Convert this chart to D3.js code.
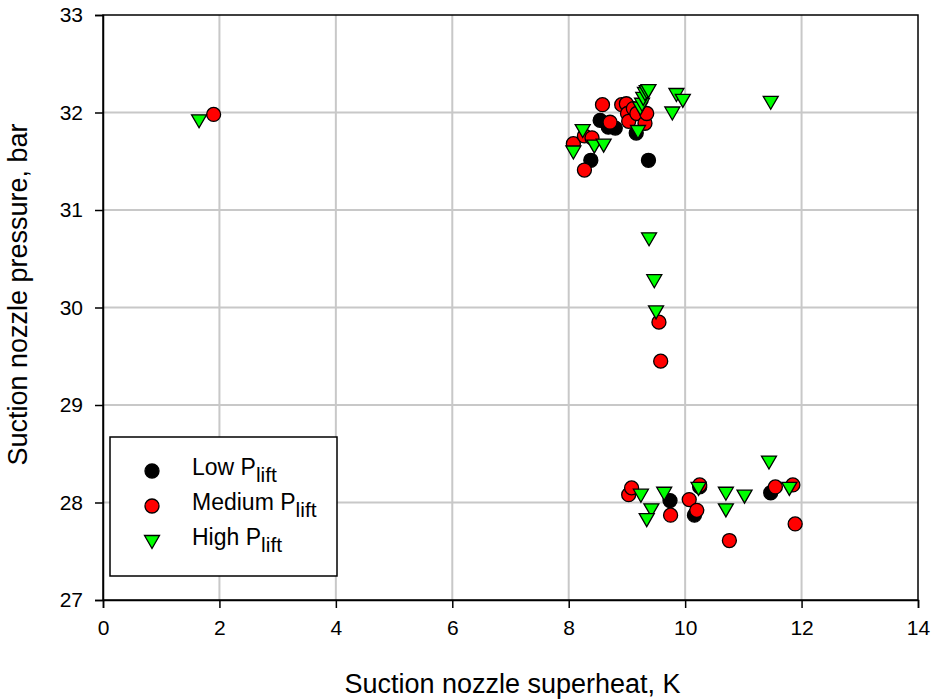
<!DOCTYPE html>
<html>
<head>
<meta charset="utf-8">
<script src="https://cdn.jsdelivr.net/npm/d3@7"></script>
<style>
  body { margin: 0; background: #fff; }
  text { font-family: "Liberation Sans", Arial, sans-serif; fill: #000; }
</style>
</head>
<body>
<div id="chart"></div>
<script>
// data: [superheat K, pressure bar]
var lowData = [
  [8.38, 31.51], [8.54, 31.92], [8.68, 31.85], [8.80, 31.84], [9.00, 32.05],
  [9.16, 31.79], [9.37, 31.51],
  [9.74, 28.02], [10.16, 27.87], [10.25, 28.16], [11.47, 28.10]
];
var mediumData = [
  [1.90, 31.98],
  [8.08, 31.68], [8.27, 31.76], [8.40, 31.74], [8.27, 31.41], [8.58, 32.08],
  [8.71, 31.90], [8.91, 32.08], [8.99, 32.09], [9.01, 31.99], [9.03, 31.91],
  [9.11, 32.04], [9.17, 31.99], [9.31, 31.89], [9.34, 31.99],
  [9.55, 29.85], [9.58, 29.45],
  [9.03, 28.08], [9.08, 28.15], [9.75, 27.87], [10.07, 28.03], [10.20, 27.92],
  [10.25, 28.18], [10.76, 27.61], [11.55, 28.16], [11.85, 28.18], [11.89, 27.78]
];
var highData = [
  [1.65, 31.92],
  [8.08, 31.60], [8.24, 31.82], [8.44, 31.66], [8.60, 31.67], [9.19, 31.81],
  [9.23, 32.05], [9.26, 32.09], [9.28, 32.15], [9.31, 32.20], [9.34, 32.22],
  [9.37, 32.23], [9.78, 32.00], [9.85, 32.19], [9.96, 32.13], [11.47, 32.11],
  [9.38, 30.71], [9.47, 30.28], [9.50, 29.96],
  [9.24, 28.08], [9.42, 27.93], [9.34, 27.83], [9.64, 28.10], [10.23, 28.15],
  [10.70, 28.10], [10.70, 27.93], [11.02, 28.07], [11.44, 28.42], [11.79, 28.15]
];
var xTicks = [0, 2, 4, 6, 8, 10, 12, 14];
var yTicks = [27, 28, 29, 30, 31, 32, 33];
var seriesNames = ["Low", "Medium", "High"];

var svgWidth = 931;
var svgHeight = 700;
var margin = { top: 15, right: 13, bottom: 100, left: 103 };
var width = svgWidth - margin.left - margin.right;
var height = svgHeight - margin.top - margin.bottom;

var svg = d3.select("#chart").append("svg")
  .attr("width", svgWidth)
  .attr("height", svgHeight);

var chartGroup = svg.append("g")
  .attr("transform", `translate(${margin.left}, ${margin.top})`);

var x = d3.scaleLinear().domain([0, 14]).range([0, width]);
var y = d3.scaleLinear().domain([27, 33]).range([height, 0]);

// grid lines
chartGroup.append("g").selectAll("line")
  .data(xTicks.slice(1, -1)).enter().append("line")
  .attr("x1", d => x(d)).attr("x2", d => x(d))
  .attr("y1", 0).attr("y2", height)
  .attr("stroke", "#c8c8c8").attr("stroke-width", 2);
chartGroup.append("g").selectAll("line")
  .data(yTicks.slice(1, -1)).enter().append("line")
  .attr("y1", d => y(d)).attr("y2", d => y(d))
  .attr("x1", 0).attr("x2", width)
  .attr("stroke", "#c8c8c8").attr("stroke-width", 2);

// frame
chartGroup.append("rect")
  .attr("width", width).attr("height", height)
  .attr("fill", "none").attr("stroke", "#000").attr("stroke-width", 1.5);

// axes
var bottomAxis = d3.axisBottom(x).tickValues(xTicks).tickFormat(d3.format("d"))
  .tickSize(8).tickPadding(12);
var leftAxis = d3.axisLeft(y).tickValues(yTicks).tickFormat(d3.format("d"))
  .tickSize(8).tickPadding(12);

var xAxis = chartGroup.append("g")
  .attr("transform", `translate(0, ${height})`)
  .call(bottomAxis);
var yAxis = chartGroup.append("g").call(leftAxis);

[xAxis, yAxis].forEach(function(a) {
  a.select(".domain").attr("stroke-width", 1.5);
  a.selectAll(".tick line").attr("stroke-width", 1.5);
  a.selectAll(".tick text")
    .attr("font-size", 21)
    .attr("font-family", "Liberation Sans, Arial, sans-serif");
});

// axis labels
chartGroup.append("text")
  .attr("x", width / 2 + 2)
  .attr("y", height + 93)
  .attr("text-anchor", "middle")
  .attr("font-size", 27)
  .text("Suction nozzle superheat, K");

chartGroup.append("text")
  .attr("transform", "rotate(-90)")
  .attr("x", -(height / 2) + 13)
  .attr("y", -76)
  .attr("text-anchor", "middle")
  .attr("font-size", 27)
  .text("Suction nozzle pressure, bar");

// markers
var trianglePath = "M-7.5,-5.5L7.5,-5.5L0,7.5Z";

function drawCircles(data, color) {
  chartGroup.append("g").selectAll("circle")
    .data(data).enter().append("circle")
    .attr("cx", d => x(d[0]))
    .attr("cy", d => y(d[1]))
    .attr("r", 7)
    .attr("fill", color)
    .attr("stroke", "#000")
    .attr("stroke-width", 1.3);
}
drawCircles(lowData, "#000");
drawCircles(mediumData, "#ff0000");

chartGroup.append("g").selectAll("path")
  .data(highData).enter().append("path")
  .attr("d", trianglePath)
  .attr("transform", d => `translate(${x(d[0])}, ${y(d[1])})`)
  .attr("fill", "#00ff00")
  .attr("stroke", "#000")
  .attr("stroke-width", 1.3);

// legend
var legend = svg.append("g").attr("transform", "translate(110, 437)");
legend.append("rect")
  .attr("width", 227).attr("height", 139)
  .attr("fill", "#fff").attr("stroke", "#000").attr("stroke-width", 1.5);

var legendColors = ["#000", "#ff0000", "#00ff00"];
seriesNames.forEach(function(name, i) {
  var ly = 34 + i * 35;
  if (i < 2) {
    legend.append("circle")
      .attr("cx", 42).attr("cy", ly).attr("r", 7)
      .attr("fill", legendColors[i]).attr("stroke", "#000").attr("stroke-width", 1.3);
  } else {
    legend.append("path")
      .attr("d", trianglePath)
      .attr("transform", `translate(42, ${ly})`)
      .attr("fill", legendColors[i]).attr("stroke", "#000").attr("stroke-width", 1.3);
  }
  var t = legend.append("text")
    .attr("x", 82).attr("y", ly + 4)
    .attr("font-size", 23);
  t.append("tspan").text(name + " P");
  t.append("tspan").attr("font-size", 21).attr("dy", 7).text("lift");
});
</script>
</body>
</html>
